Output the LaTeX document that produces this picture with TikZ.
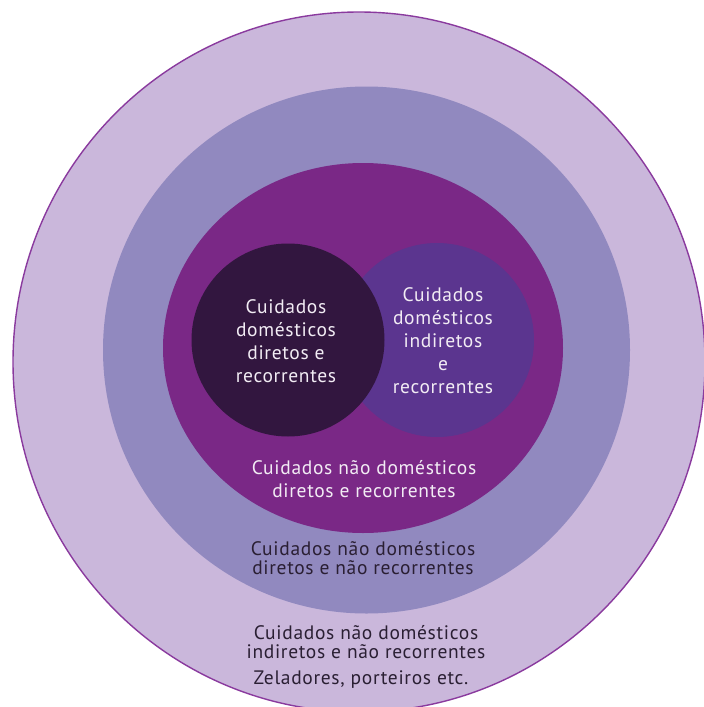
\documentclass[tikz,border=0pt]{standalone}
\usepackage{fontspec}
\setmainfont{PT Sans}[LetterSpace=3.5]
\definecolor{ringA}{HTML}{CAB7DB}
\definecolor{ringAline}{HTML}{8A3A9E}
\definecolor{ringB}{HTML}{9189BF}
\definecolor{ringC}{HTML}{7A2886}
\definecolor{darkc}{HTML}{32163F}
\definecolor{midc}{HTML}{5B358F}
\definecolor{lighttxt}{HTML}{F2ECF4}
\definecolor{darktxt}{HTML}{2A1F33}
\begin{document}
\begin{tikzpicture}[x=1pt,y=-1pt,
  lbl/.style={align=center,inner sep=0pt,font=\fontsize{19.5}{23}\selectfont},
  lblsmall/.style={align=center,inner sep=0pt,font=\fontsize{19.5}{19}\selectfont}]
\useasboundingbox (0,0) rectangle (704,707);
\clip (0,0) rectangle (704,707);
\fill[ringA,draw=ringAline,line width=1.4pt] (359,362) ellipse [x radius=346, y radius=350];
\fill[ringB] (366.5,350) circle [radius=263.5];
\fill[ringC] (363,348) ellipse [x radius=200, y radius=185];
\fill[midc] (437,340) circle [radius=97];
\fill[darkc] (288,340) circle [radius=96.5];
\node[lbl,text=lighttxt] (t1) at (286,341.5) {Cuidados\\domésticos\\diretos e\\recorrentes};
\node[lbl,text=lighttxt] (t2) at (443,341) {Cuidados\\domésticos\\indiretos\\e\\recorrentes};
\node[lbl,text=lighttxt] (t3) at (364,479) {Cuidados não domésticos\\diretos e recorrentes};
\node[lblsmall,text=darktxt] (t4) at (363,558.5) {Cuidados não domésticos\\diretos e não recorrentes};
\node[lblsmall,text=darktxt] (t5) at (366,642.5) {Cuidados não domésticos\\indiretos e não recorrentes};
\node[lbl,text=darktxt] (t6) at (361,680) {Zeladores, porteiros etc.};
\end{tikzpicture}
\end{document}
